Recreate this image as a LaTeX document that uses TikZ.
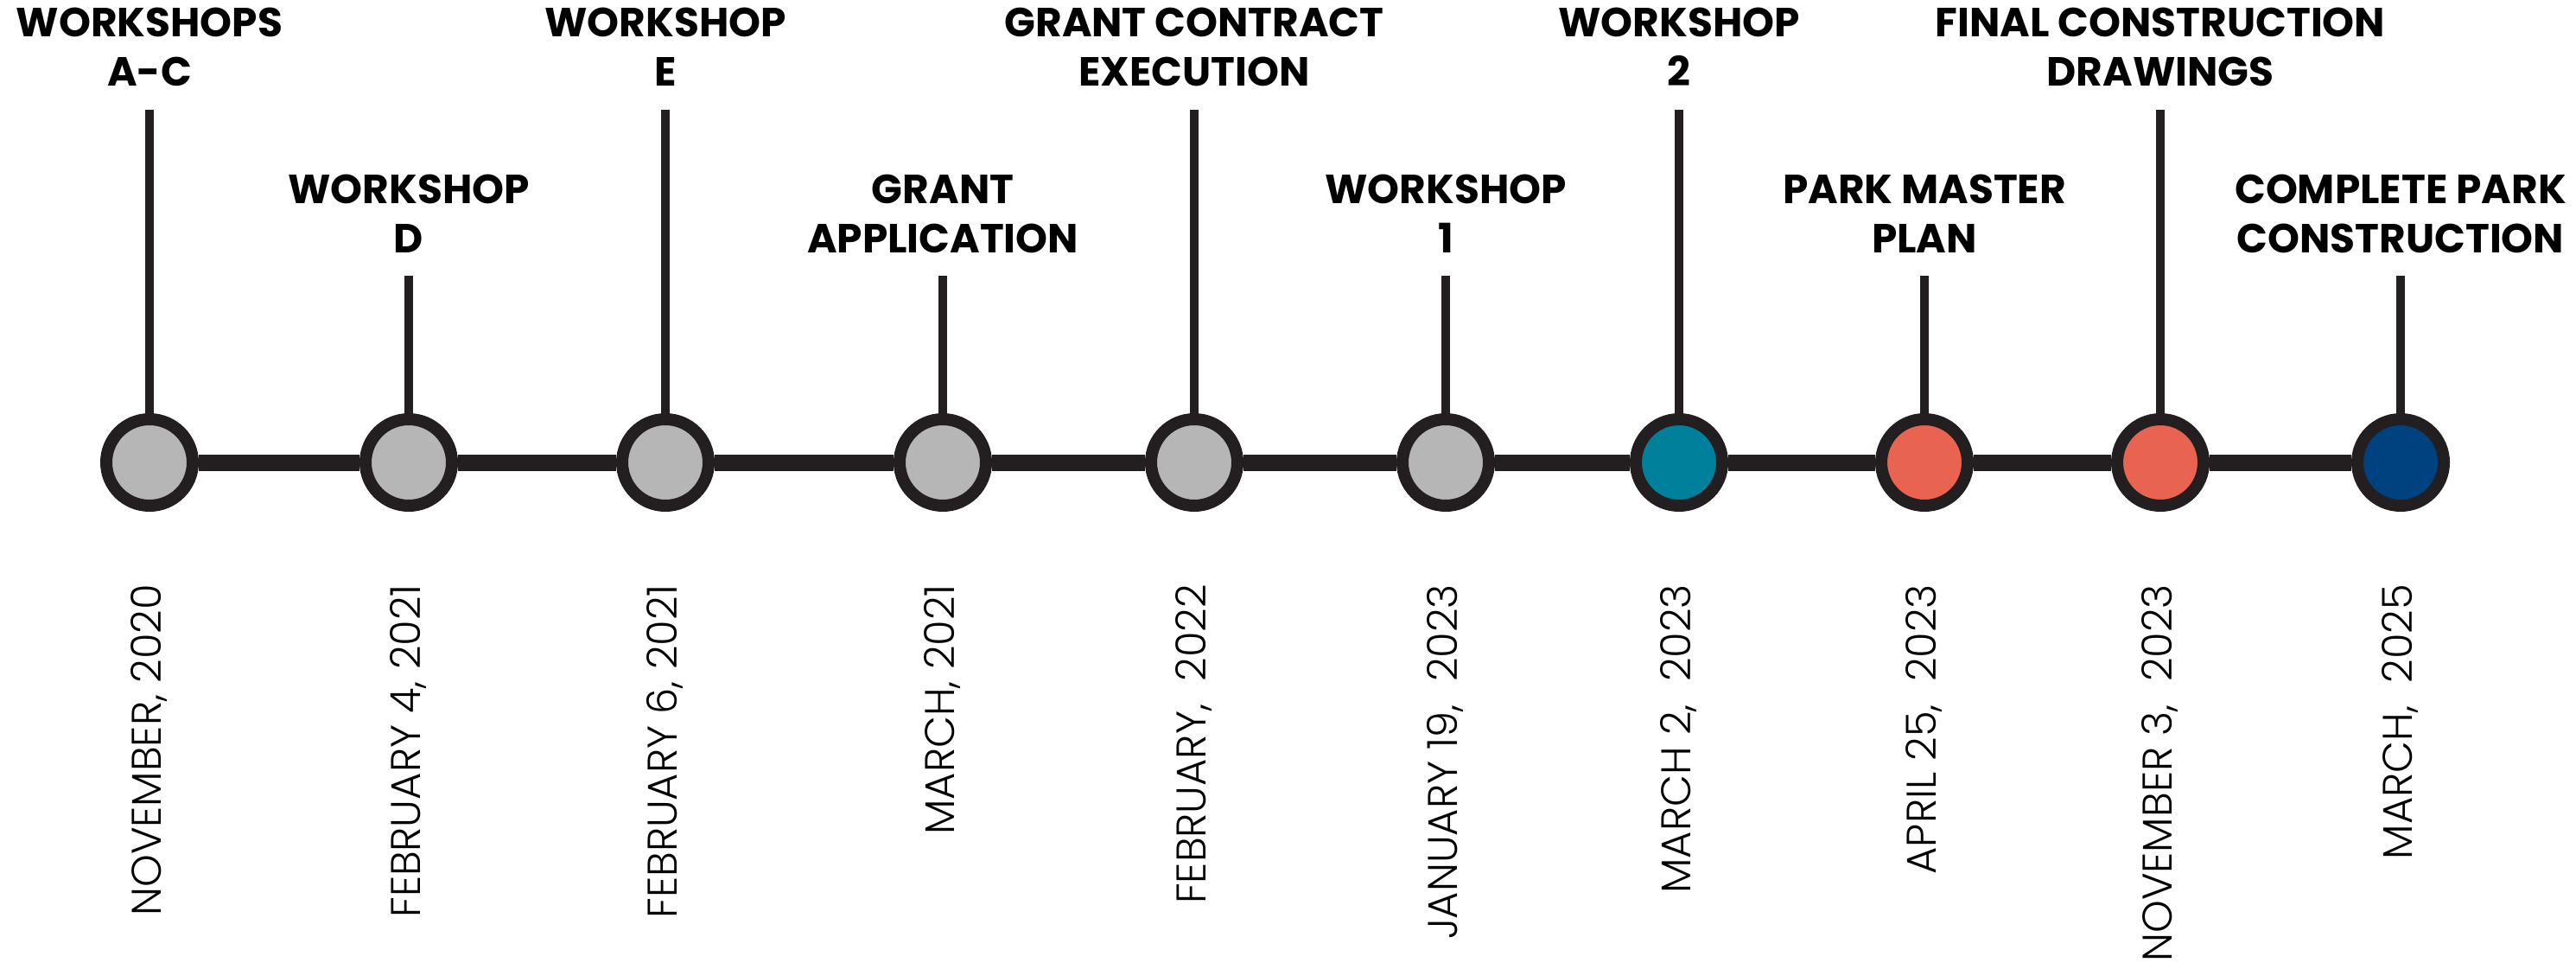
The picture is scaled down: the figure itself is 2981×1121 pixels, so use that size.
\documentclass[tikz,border=0pt]{standalone}
\usepackage{fontspec}
\newfontfamily\headfont{Poppins}
\newfontfamily\datefont{Poppins Light}
\definecolor{ink}{HTML}{231F20}
\definecolor{dotgray}{HTML}{B7B6B7}
\definecolor{dotteal}{HTML}{00809B}
\definecolor{dotcoral}{HTML}{E86450}
\definecolor{dotnavy}{HTML}{004180}
\begin{document}
\begin{tikzpicture}[x=1pt,y=-1pt,
  evdot/.style={circle,draw=ink,line width=14pt,minimum size=100pt,inner sep=0pt},
  stemline/.style={draw=ink,line width=10pt},
  spineline/.style={draw=ink,line width=19pt},
  evtlabel/.style={font=\headfont\bfseries\fontsize{47}{57}\selectfont,align=center,anchor=base,inner sep=0pt},
  datelabel/.style={font=\datefont\fontsize{48}{58}\selectfont,rotate=90,anchor=base east,inner sep=0pt}]
\path[fill=white,use as bounding box] (0,0) rectangle (2981,1121);

% event circles
\node[evdot,fill=dotgray]  (c0) at (173,535) {};
\node[evdot,fill=dotgray]  (c1) at (473,535) {};
\node[evdot,fill=dotgray]  (c2) at (770,535) {};
\node[evdot,fill=dotgray]  (c3) at (1091,535) {};
\node[evdot,fill=dotgray]  (c4) at (1382,535) {};
\node[evdot,fill=dotgray]  (c5) at (1673,535) {};
\node[evdot,fill=dotteal]  (c6) at (1943,535) {};
\node[evdot,fill=dotcoral] (c7) at (2227,535) {};
\node[evdot,fill=dotcoral] (c8) at (2500,535) {};
\node[evdot,fill=dotnavy]  (c9) at (2778,535) {};

% spine
\draw[spineline] (c0) -- (c1);
\draw[spineline] (c1) -- (c2);
\draw[spineline] (c2) -- (c3);
\draw[spineline] (c3) -- (c4);
\draw[spineline] (c4) -- (c5);
\draw[spineline] (c5) -- (c6);
\draw[spineline] (c6) -- (c7);
\draw[spineline] (c7) -- (c8);
\draw[spineline] (c8) -- (c9);

% stem tops
\coordinate (t0) at (173,127);
\coordinate (t1) at (473,319);
\coordinate (t2) at (770,127);
\coordinate (t3) at (1091,319);
\coordinate (t4) at (1382,127);
\coordinate (t5) at (1673,319);
\coordinate (t6) at (1943,127);
\coordinate (t7) at (2227,319);
\coordinate (t8) at (2500,127);
\coordinate (t9) at (2778,319);

\draw[stemline] (t0) -- (c0);
\draw[stemline] (t1) -- (c1);
\draw[stemline] (t2) -- (c2);
\draw[stemline] (t3) -- (c3);
\draw[stemline] (t4) -- (c4);
\draw[stemline] (t5) -- (c5);
\draw[stemline] (t6) -- (c6);
\draw[stemline] (t7) -- (c7);
\draw[stemline] (t8) -- (c8);
\draw[stemline] (t9) -- (c9);

% event labels (anchor = baseline of the last line)
\node[evtlabel] (l0) at (173,100)  {WORKSHOPS\\A-C};
\node[evtlabel] (l1) at (473,292)  {WORKSHOP\\D};
\node[evtlabel] (l2) at (770,100)  {WORKSHOP\\E};
\node[evtlabel] (l3) at (1091,292) {GRANT\\APPLICATION};
\node[evtlabel] (l4) at (1382,100) {GRANT CONTRACT\\EXECUTION};
\node[evtlabel] (l5) at (1673,292) {WORKSHOP\\1};
\node[evtlabel] (l6) at (1943,100) {WORKSHOP\\2};
\node[evtlabel] (l7) at (2227,292) {PARK MASTER\\PLAN};
\node[evtlabel] (l8) at (2500,100) {FINAL CONSTRUCTION\\DRAWINGS};
\node[evtlabel] (l9) at (2778,292) {COMPLETE PARK\\CONSTRUCTION};

% dates
\node[datelabel] (d0) at (186,676)  {NOVEMBER, 2020};
\node[datelabel] (d1) at (486,676)  {FEBRUARY 4, 2021};
\node[datelabel] (d2) at (783,676)  {FEBRUARY 6, 2021};
\node[datelabel] (d3) at (1104,676) {MARCH, 2021};
\node[datelabel] (d4) at (1395,676) {FEBRUARY,~~2022};
\node[datelabel] (d5) at (1686,676) {JANUARY 19,~~2023};
\node[datelabel] (d6) at (1956,676) {MARCH 2,~~2023};
\node[datelabel] (d7) at (2240,676) {APRIL 25,~~2023};
\node[datelabel] (d8) at (2513,676) {NOVEMBER 3,~~2023};
\node[datelabel] (d9) at (2791,676) {MARCH,~~2025};
\end{tikzpicture}
\end{document}
